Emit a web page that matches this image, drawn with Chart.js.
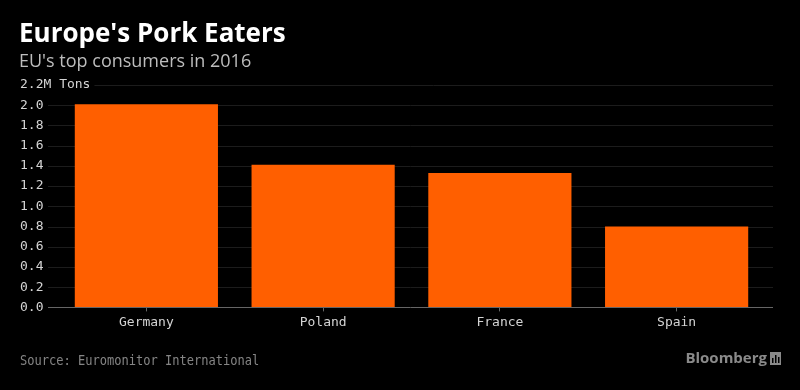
<!DOCTYPE html>
<html>
<head>
<meta charset="utf-8">
<script src="https://cdn.jsdelivr.net/npm/chart.js@4.4.0/dist/chart.umd.min.js"></script>
<style>
  html, body { margin: 0; padding: 0; background: #000; }
  #wrap { width: 800px; height: 390px; position: relative; }
</style>
</head>
<body>
<div id="wrap"><canvas id="pork"></canvas></div>
<script>
const countries = ["Germany", "Poland", "France", "Spain"];
const consumption = [2.01, 1.41, 1.33, 0.80];
const yTicks = [0, 0.2, 0.4, 0.6, 0.8, 1.0, 1.2, 1.4, 1.6, 1.8, 2.0, 2.2];
const topLabel = "2.2M Tons";

const mono = "'DejaVu Sans Mono', monospace";
const gridLeft = 48, gridRight = 773;

// gridlines run a little wider than the bar area
const gridlines = {
    id: 'gridlines',
    beforeDatasetsDraw(chart) {
        const ctx = chart.ctx;
        const y = chart.scales.y;
        ctx.save();
        ctx.lineWidth = 1;
        ctx.strokeStyle = '#1c1c1c';
        ctx.font = "13px " + mono;
        const labelEnd = 20 + ctx.measureText(topLabel).width + 4;
        yTicks.forEach(v => {
            if (v === 0) return;
            const py = Math.round(y.getPixelForValue(v)) + 0.5;
            ctx.beginPath();
            ctx.moveTo(v > 2.1 ? labelEnd : gridLeft, py);
            ctx.lineTo(gridRight, py);
            ctx.stroke();
        });
        ctx.restore();
    },
    afterDatasetsDraw(chart) {
        const ctx = chart.ctx;
        const y = chart.scales.y;
        const py = Math.round(y.getPixelForValue(0)) + 0.5;
        ctx.save();
        ctx.strokeStyle = '#666';
        ctx.lineWidth = 1;
        ctx.beginPath();
        ctx.moveTo(gridLeft, py);
        ctx.lineTo(gridRight, py);
        ctx.stroke();
        ctx.restore();
    }
};

// titles, footer and the "2.2M Tons" label
const decorations = {
    id: 'decorations',
    beforeDraw(chart) {
        const ctx = chart.ctx;
        ctx.save();
        ctx.fillStyle = '#000';
        ctx.fillRect(0, 0, chart.width, chart.height);
        ctx.restore();
    },
    afterDraw(chart) {
        const ctx = chart.ctx;
        const y = chart.scales.y;
        ctx.save();
        ctx.textBaseline = 'middle';
        ctx.textAlign = 'left';

        ctx.fillStyle = '#fff';
        ctx.font = "bold 26px 'Open Sans', sans-serif";
        ctx.fillText("Europe's Pork Eaters", 19, 35);

        ctx.fillStyle = '#bdbdbd';
        ctx.font = "18px 'Open Sans', sans-serif";
        ctx.fillText("EU's top consumers in 2016", 19, 62);

        ctx.fillStyle = '#d4d4d4';
        ctx.font = "13px " + mono;
        ctx.fillText(topLabel, 20, y.getPixelForValue(2.2));

        ctx.save();
        ctx.fillStyle = '#858585';
        ctx.font = "14px " + mono;
        ctx.translate(20, 361);
        ctx.scale(0.86, 1);
        ctx.fillText("Source: Euromonitor International", 0, 0);
        ctx.restore();

        ctx.fillStyle = '#8a8a8a';
        ctx.font = "bold 15px 'Open Sans', sans-serif";
        ctx.textAlign = 'right';
        ctx.fillText("Bloomberg", 767, 359);
        ctx.fillRect(770, 352, 11, 13);
        ctx.fillStyle = '#000';
        ctx.fillRect(772, 358, 1.5, 5);
        ctx.fillRect(775, 355, 1.5, 8);
        ctx.fillRect(778, 357, 1.5, 6);
        ctx.restore();
    }
};

new Chart(document.getElementById('pork'), {
    type: 'bar',
    data: {
        labels: countries,
        datasets: [{
            data: consumption,
            backgroundColor: '#ff5f00',
            borderWidth: 0,
            barPercentage: 0.81,
            categoryPercentage: 1.0
        }]
    },
    options: {
        responsive: true,
        maintainAspectRatio: false,
        animation: false,
        layout: {
            padding: { left: 20, right: 35, top: 85, bottom: 57 }
        },
        plugins: {
            legend: { display: false },
            tooltip: { enabled: false }
        },
        scales: {
            x: {
                grid: {
                    offset: false,
                    drawOnChartArea: false,
                    drawTicks: true,
                    tickLength: 4,
                    color: '#666'
                },
                border: { display: false },
                ticks: {
                    color: '#d4d4d4',
                    font: { family: mono, size: 13 },
                    padding: 3
                }
            },
            y: {
                min: 0,
                max: 2.2,
                afterBuildTicks(scale) {
                    scale.ticks = yTicks.map(v => ({ value: v }));
                },
                afterFit(scale) {
                    scale.width = 38;
                },
                grid: { display: false, drawTicks: false },
                border: { display: false },
                ticks: {
                    color: '#d4d4d4',
                    font: { family: mono, size: 13 },
                    crossAlign: 'far',
                    padding: 0,
                    callback: v => v > 2.1 ? '' : v.toFixed(1)
                }
            }
        }
    },
    plugins: [gridlines, decorations]
});
</script>
</body>
</html>
